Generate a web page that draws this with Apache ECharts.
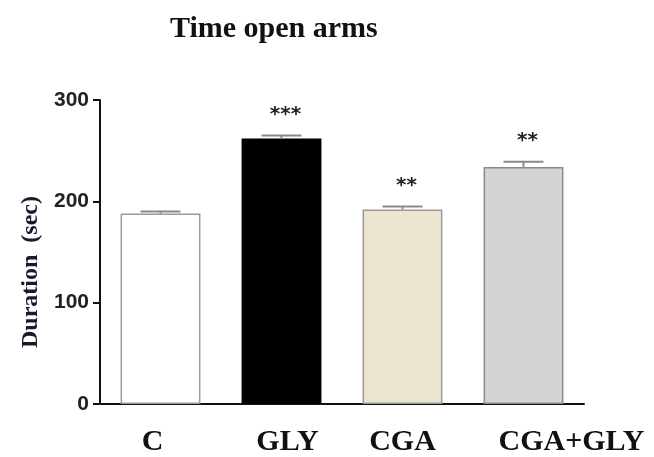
<!DOCTYPE html>
<html>
<head>
<meta charset="utf-8">
<title>Time open arms</title>
<script src="https://cdn.jsdelivr.net/npm/echarts@6/dist/echarts.min.js"></script>
<style>
  html, body { margin: 0; padding: 0; background: #fff; }
  #chart { width: 654px; height: 457px; }
</style>
</head>
<body>
<div id="chart"></div>
<script>
// Datos
const categories = ['C', 'GLY', 'CGA', 'CGA+GLY'];
const means = [188, 262, 192, 234];
const sem = [2, 3, 3, 5];
const stars = ['', '***', '**', '**'];
const yTicks = [0, 100, 200, 300];

// Estilos de cada barra
const fills = ['#ffffff', '#000000', '#ece6cf', '#d4d4d4'];
const borders = ['#9a9a9a', '#000000', '#9a9a9a', '#8a8a8a'];
// Desplazamiento horizontal de las etiquetas (px), como en la figura original
const labelShift = [-8, 6, 0, 48];

const chart = echarts.init(document.getElementById('chart'));

chart.setOption({
    animation: false,
    backgroundColor: '#ffffff',
    title: {
        text: 'Time open arms',
        left: 165,
        top: 9,
        textStyle: {
            fontFamily: 'Liberation Serif',
            fontWeight: 'bold',
            fontSize: 30,
            color: '#111'
        }
    },
    grid: { left: 100, right: 70, top: 100, bottom: 53 },
    xAxis: {
        type: 'category',
        data: categories.map((c, i) => ({
            value: c,
            textStyle: {
                padding: labelShift[i] > 0 ? [0, 0, 0, 2 * labelShift[i]] : [0, -2 * labelShift[i], 0, 0]
            }
        })),
        axisLine: { lineStyle: { color: '#111', width: 2 } },
        axisTick: { alignWithLabel: true, length: 6, lineStyle: { color: '#111', width: 2 } },
        axisLabel: {
            interval: 0,
            margin: 23,
            fontFamily: 'Liberation Serif',
            fontWeight: 'bold',
            fontSize: 30,
            color: '#111'
        }
    },
    yAxis: {
        type: 'value',
        min: yTicks[0],
        max: yTicks[yTicks.length - 1],
        interval: 100,
        name: 'Duration  (sec)',
        nameLocation: 'middle',
        nameGap: 55,
        nameTextStyle: {
            fontFamily: 'Liberation Serif',
            fontWeight: 'bold',
            fontSize: 24,
            color: '#1a1a2e',
            padding: [0, 40, 0, 0]
        },
        axisLine: { show: true, lineStyle: { color: '#111', width: 2 } },
        axisTick: { show: true, length: 7, lineStyle: { color: '#111', width: 2 } },
        axisLabel: {
            margin: 11,
            fontFamily: 'Liberation Sans',
            fontWeight: 'bold',
            fontSize: 21,
            color: '#222'
        },
        splitLine: { show: false }
    },
    series: [
        {
            type: 'bar',
            barWidth: '66%',
            data: means.map((v, i) => ({
                value: v,
                itemStyle: { color: fills[i], borderColor: borders[i], borderWidth: 1.5 }
            }))
        },
        {
            // Barras de error (solo la mitad superior) y asteriscos
            type: 'custom',
            z: 5,
            data: means.map((v, i) => [i, v, sem[i]]),
            renderItem: function (params, api) {
                const x = api.value(0);
                const y = api.value(1);
                const e = api.value(2);
                const base = api.coord([x, y]);
                const top = api.coord([x, y + e]);
                const half = api.size([1, 0])[0] * 0.165;
                const style = { stroke: '#8a8a8a', lineWidth: 2 };
                return {
                    type: 'group',
                    children: [
                        { type: 'line', shape: { x1: top[0], y1: base[1], x2: top[0], y2: top[1] }, style: style },
                        { type: 'line', shape: { x1: top[0] - half, y1: top[1], x2: top[0] + half, y2: top[1] }, style: style },
                        {
                            type: 'text',
                            x: top[0] + 4,
                            y: top[1] - 21,
                            style: {
                                text: stars[params.dataIndex],
                                fontFamily: 'DejaVu Sans',
                                fontWeight: 'bold',
                                fontSize: 20,
                                fill: '#222',
                                align: 'center',
                                verticalAlign: 'middle'
                            }
                        }
                    ]
                };
            }
        }
    ]
});
</script>
</body>
</html>
